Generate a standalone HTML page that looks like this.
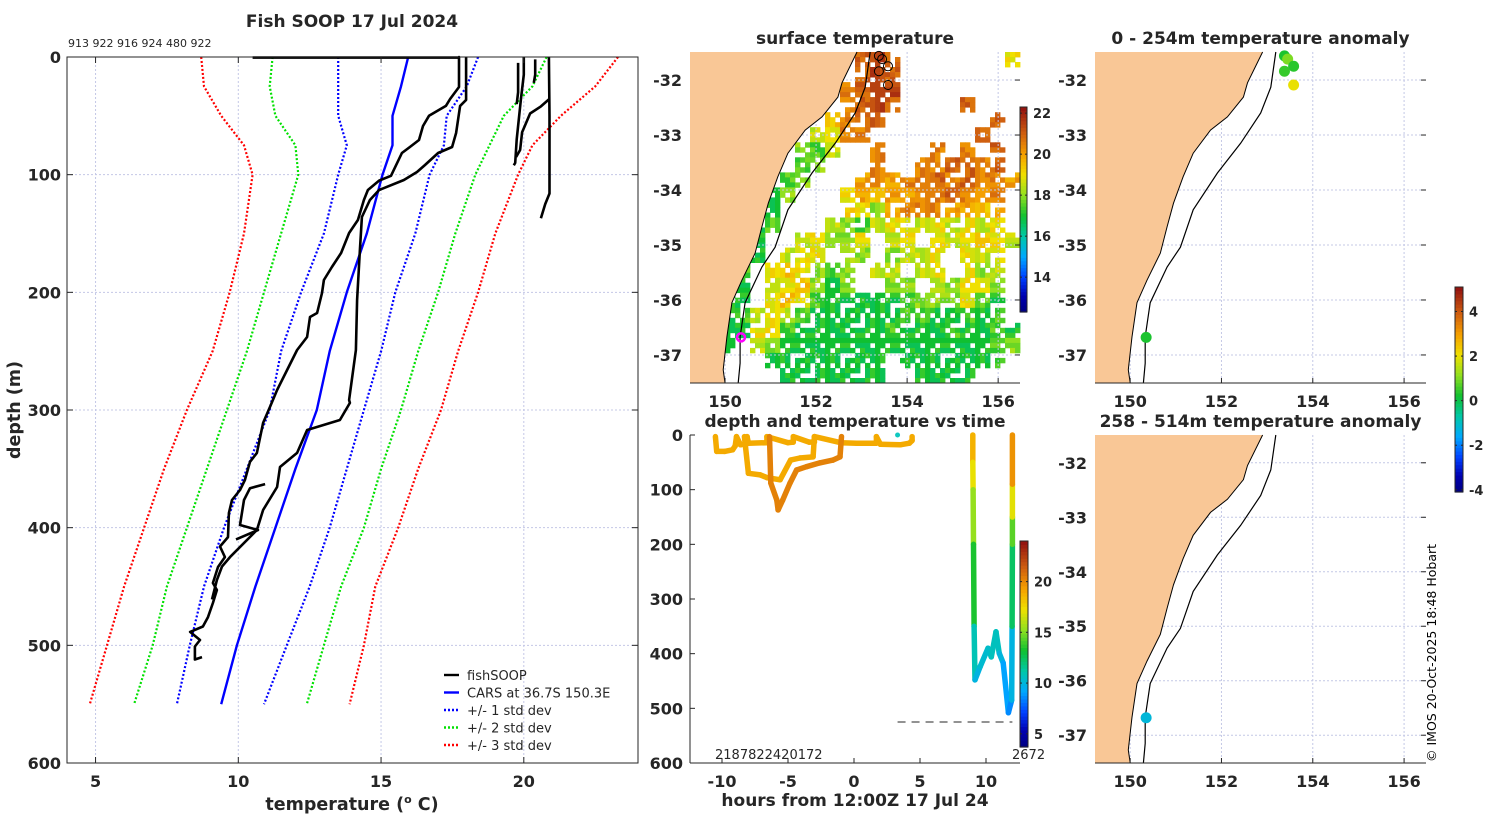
<!DOCTYPE html>
<html><head><meta charset="utf-8"><style>
html,body{margin:0;padding:0;background:#fff;}
svg{display:block;font-family:"DejaVu Sans","Liberation Sans",sans-serif;}
</style></head><body>
<svg id="fig" width="1500" height="820" viewBox="0 0 1500 820" xmlns="http://www.w3.org/2000/svg">
<rect width="1500" height="820" fill="#fff"/>
<g id="prof"></g>
<g id="sst"></g>
<g id="anom1"></g>
<g id="anom2"></g>
<g id="tvt"></g>
<text x="1436" y="762" font-size="12.5" transform="rotate(-90 1436 762)">© IMOS 20-Oct-2025 18:48 Hobart</text>
</svg>
<script>
// ---------- profile data ----------
const depthLevels=[0,25,50,75,100,150,200,250,300,350,400,450,500,550];
const carsMean=[15.95,15.7,15.4,15.4,15.05,14.5,13.8,13.2,12.75,12.0,11.3,10.6,9.95,9.4];
const plus1=[18.4,18.0,17.3,17.2,16.7,16.2,15.5,15.0,14.4,13.8,13.2,12.5,11.7,10.9];
const minus1=[13.5,13.5,13.5,13.8,13.5,13.0,12.2,11.5,11.1,10.3,9.5,8.8,8.3,7.85];
const plus2=[20.8,20.3,19.3,18.8,18.3,17.6,17.0,16.3,15.7,15.0,14.4,13.6,13.0,12.4];
const minus2=[11.2,11.1,11.3,12.0,12.1,11.5,10.9,10.3,9.6,8.9,8.2,7.5,7.0,6.35];
const plus3=[23.3,22.5,21.3,20.3,19.8,19.0,18.4,17.7,17.1,16.3,15.6,14.8,14.4,13.9];
const minus3=[8.7,8.8,9.4,10.2,10.5,10.2,9.7,9.1,8.2,7.4,6.7,6.0,5.4,4.8];
const p1T=[10.5,17.73,17.73,17.73,17.42,17.27,16.68,16.47,16.33,16.01,15.73,15.35,14.93,14.54,14.40,14.19,13.88,13.60,13.28,13.0,12.93,12.76,12.51,12.41,12.06,11.71,11.36,11.11,10.87,10.65,10.41,10.23,10.06,9.78,9.67,9.64,9.36,9.53,9.29,9.11,9.25,9.11,8.94,8.76,8.31,8.66,8.48,8.48,8.73];
const p1D=[0.5,0.5,0,25.5,35.7,41.6,50,58.6,70.5,76.5,81.6,101,105,113,121.5,138.5,149.6,166.6,178.5,189.5,200.6,217.6,221,238,249,266,283,297.4,311,336.5,344,359.5,368,376.5,387.5,408,416,425,433.4,447,453,464,476,484,488.6,495.5,501,512,510];
const p2T=[17.98,17.98,17.77,17.63,17.49,17.0,16.54,16.26,15.80,14.93,14.61,14.33,14.26,14.16,14.12,13.88,13.91,13.56,12.41,12.06,11.46,11.36,10.87,10.65,9.71,9.43,9.25,9.08];
const p2D=[0,36.5,41.6,64.6,76.5,81.6,91.8,97.7,104.5,113,121.5,136,164,206.5,249,291.5,294,308.5,317,336.5,348.4,365.4,385,402,425,433,444.5,461];
const p3T=[10.94,10.41,10.20,10.06,10.69,9.92];
const p3D=[363,366.5,376.5,397.7,402,410];
const p4T=[20.0,20.0,19.9,19.75,19.7,19.65];
const p4D=[0,15,36,70,90,92];
const p5T=[19.8,19.8,19.75];
const p5D=[5,30,40];
const p6T=[20.4,20.4,20.35];
const p6D=[2,15,22];
const p7T=[20.88,20.9,20.9,20.9,20.75,20.6];
const p7D=[0,50,100,116,125,137];
const p8T=[20.88,20.6,20.22,19.94,19.87,19.73];
const p8D=[36,42,48,64,79,85];
const tempTicks=[5,10,15,20];
const depthTicks=[0,100,200,300,400,500,600];

// ---------- maps ----------
const coastLon=[152.90,152.57,152.48,152.13,151.76,151.38,151.16,150.95,150.81,150.66,150.37,150.15,150.04,149.96,150.0];
const coastLat=[-31.49,-32.05,-32.31,-32.67,-32.91,-33.33,-33.76,-34.24,-34.67,-35.15,-35.64,-36.05,-36.67,-37.27,-37.51];
const isoLon=[153.19,153.08,152.86,152.42,151.91,151.38,151.10,150.81,150.44,150.33,150.33,150.29];
const isoLat=[-31.49,-32.13,-32.6,-33.15,-33.69,-34.36,-35.04,-35.4,-36.05,-36.67,-37.15,-37.51];
const lonTicks=[150,152,154,156];
const latTicks=[-32,-33,-34,-35,-36,-37];
const stnLon=[153.38,153.45,153.58,153.38,153.58,150.35];
const stnLat=[-31.56,-31.62,-31.75,-31.84,-32.09,-36.68];
const anomShallow=[0.3,1.0,0.4,0.5,2.0,0.3];
const anomDeepLon=[150.35];
const anomDeepLat=[-36.68];
const anomDeep=[-1.2];
const sstGrid=[
[0,0,0,0,0,0,0,0,0,0,0,21,21.5,21,0,0,0,0,0,0,0,19],
[0,0,0,0,0,0,0,0,0,0,0,21,21.5,21,0,0,0,0,0,0,0,0],
[0,0,0,0,0,0,0,0,0,0,20.5,21,21.5,21.5,0,0,0,0,0,0,0,0],
[0,0,0,0,0,0,0,0,0,0,20.5,21,21.5,21,0,0,0,0,21,0,0,0],
[0,0,0,0,0,0,0,0,0,19.5,20.5,21,21,0,0,0,0,0,0,0,21,0],
[0,0,0,0,0,0,0,0,18.5,19,20.5,20.5,0,0,0,0,0,0,0,21,0,0],
[0,0,0,0,0,0,0,18,17.5,18.5,0,0,20.5,0,0,0,20.5,0,20.5,0,21,0],
[0,0,0,0,0,0,0,17.5,18,0,0,0,20.5,0,0,20.5,20.5,21,21,20.5,21,0],
[0,0,0,0,0,0,17.5,18,0,0,0,20,20.5,20,20.5,20.5,21,20.5,21,20.5,20.5,20],
[0,0,0,0,0,17,18,0,0,0,19,20,19.5,20,20,20.5,20.5,21,20.5,20,20.5,0],
[0,0,0,0,0,17,0,0,0,0,19.5,19,18,20,20.5,20.5,20.5,20,20,19.5,20,0],
[0,0,0,0,17,17.5,0,0,0,18.5,18,17.5,18.5,19,19,18.5,19,18.5,19,18.5,19,0],
[0,0,0,0,17,0,0,18.5,19,18,18,19,0,18.5,19,0,19,18.5,19,19.5,19,18.5],
[0,0,0,17.5,17,0,18.5,19,19,0,18.5,18,0,18,18.5,18.5,19,0,19,18.5,19,0],
[0,0,0,17.5,0,19,19.5,19,18,17.5,18,0,18.5,18.5,0,18.5,19,0,19,18,18.5,0],
[0,0,0,17,0,18.5,19,19.5,18,17,18,0,0,18,18,0,18.5,18,19,19,18,0],
[0,0,17,17,0,19,19.5,19,17.5,17,17,17,17,17,17.5,18,18,18,19,17.5,17,0],
[0,0,17,17.5,18.5,19,18.5,17.5,17,17,17,17,17,17,17.5,17.5,17,17,17.5,17,17.5,0],
[0,0,17,17,19,19,17.5,17,17,17,17,17,17,17.5,17,17,17,17.5,17,17,17.5,17],
[0,0,17,0,18.5,18,17,17,17,17,17,17,17,17,17,17,17,17,17,17,17.5,18],
[0,0,0,0,0,17,17,17,17,17,17,17,17,0,17,17,17,17,17,17,17.5,0],
[0,0,0,0,0,0,17,17,17,17,17,17,17,0,0,17,17,17,17,0,0,0]];

// ---------- depth vs time ----------
const trA_h=[-10.5,-10.4,-9.8,-9.2,-9.0,-8.9,-8.6,-8.1,-8.1,-8.0,-6.6,-6.6,-5,-4.6,-4.6,-3.4,-3.0,-3.0,-1,0.2,1.7,1.7,2,3.5,4.2,4.4,4.4];
const trA_d=[3,30,30,27,20,3,18,16,3,15,14,3,14,13,3,13,13,3,14,15,15,3,17,18,15,10,3];
const trB_h=[-8.3,-8.0,-7.1,-6.6,-5.6,-4.8,-4.1,-3.1,-3.0];
const trB_d=[3,70,73,78,82,46,42,40,3];
const trC_h=[-6.4,-6.3,-5.85,-5.75,-5.4,-4.85,-4.35,-3.6,-2.6,-1.6,-1.06,-0.95];
const trC_d=[3,88,119,137,119,88,64,58,51,46,40,3];
const trD_h=[9.0,9.0,9.02,9.05,9.1,9.17,9.55,10.15,10.4,10.76,11.0,11.3,11.7,11.95,11.98,12.0,12.0,12.0,12.0];
const trD_d=[0,50,100,200,350,448,424,390,406,360,399,417,508,485,350,200,150,90,0];
const trD_T=[19.2,18.3,16.0,14.8,12.0,9.8,10.0,10.6,10.3,11.2,10.2,9.8,8.4,8.8,11.0,13.8,15,19,20.5];
const hourTicks=[-10,-5,0,5,10];
const tvtDepthTicks=[0,100,200,300,400,500,600];

// ---------- helpers ----------
const NS='http://www.w3.org/2000/svg';
function mk(parent,tag,attrs,name,inter){
  const e=document.createElementNS(NS,tag);
  for(const k in attrs)e.setAttribute(k,attrs[k]);
  
  
  parent.appendChild(e);return e;
}
function txt(parent,x,y,s,size,anchor,bold,name){
  const t=mk(parent,'text',{x:x,y:y,'font-size':size,'text-anchor':anchor||'start'},name,false);
  if(bold)t.setAttribute('font-weight','bold');
  t.setAttribute('fill','#262626');
  t.textContent=s;return t;
}
const cstops=[[0,[0,0,128]],[0.08,[0,0,176]],[0.17,[0,64,255]],[0.27,[0,168,255]],[0.37,[0,200,168]],[0.47,[16,192,48]],[0.57,[144,224,32]],[0.67,[240,224,0]],[0.77,[245,160,0]],[0.87,[208,96,16]],[1,[144,16,16]]];
function cmap(v){
  v=Math.max(0,Math.min(1,v));
  for(let i=1;i<cstops.length;i++){
    if(v<=cstops[i][0]){
      const a=cstops[i-1],b=cstops[i],f=(v-a[0])/(b[0]-a[0]);
      const c=a[1].map((x,j)=>Math.round(x+(b[1][j]-x)*f));
      return 'rgb('+c.join(',')+')';
    }
  }
  return 'rgb(144,16,16)';
}
function colorbar(parent,x,y,w,h,vmin,vmax,ticks,name){
  const g=mk(parent,'g',{},name,false);
  const n=60;
  for(let i=0;i<n;i++){
    mk(g,'rect',{x:x,y:y+h-(i+1)*h/n,width:w,height:h/n+0.6,fill:cmap((i+0.5)/n)},'colorbar-slice',false);
  }
  mk(g,'rect',{x:x,y:y,width:w,height:h,fill:'none',stroke:'#262626','stroke-width':1},'colorbar-frame',false);
  ticks.forEach(t=>{
    const ty=y+h-(t-vmin)/(vmax-vmin)*h;
    mk(g,'line',{x1:x,x2:x+2,y1:ty,y2:ty,stroke:'#262626'},'colorbar-tick',false);
    mk(g,'line',{x1:x+w-2,x2:x+w,y1:ty,y2:ty,stroke:'#262626'},'colorbar-tick',false);
    txt(g,x+w+6,ty+5,String(t),13,'start',true,'colorbar-tick-label');
  });
}

// ---------- profile panel ----------
(function(){
  const g=document.getElementById('prof');
  const X0=67,X1=638,Y0=57,Y1=763;
  const xT=T=>X0+(T-4)*(X1-X0)/20;
  const yD=d=>Y0+d*(Y1-Y0)/600;
  txt(g,352,27,'Fish SOOP 17 Jul 2024',17,'middle',true,'profile-title');
  txt(g,68,47,'913 922 916 924 480 922',11,'start',false,'profile-ids');
  tempTicks.forEach(t=>mk(g,'line',{x1:xT(t),x2:xT(t),y1:Y0,y2:Y1,stroke:'#c4c8e6','stroke-dasharray':'2,2'},'x-gridline',false));
  depthTicks.slice(1,-1).forEach(d=>mk(g,'line',{x1:X0,x2:X1,y1:yD(d),y2:yD(d),stroke:'#c4c8e6','stroke-dasharray':'2,2'},'y-gridline',false));
  function line(Ts,Ds,col,w,dash,name){
    const pts=Ts.map((t,i)=>xT(t).toFixed(1)+','+yD(Ds[i]).toFixed(1)).join(' ');
    const a={points:pts,fill:'none',stroke:col,'stroke-width':w,'stroke-linejoin':'round'};
    if(dash)a['stroke-dasharray']=dash;
    mk(g,'polyline',a,name,false);
  }
  line(minus3,depthLevels,'#ff0000',2.2,'2,2','minus-3-std');
  line(plus3,depthLevels,'#ff0000',2.2,'2,2','plus-3-std');
  line(minus2,depthLevels,'#00e000',2.2,'2,2','minus-2-std');
  line(plus2,depthLevels,'#00e000',2.2,'2,2','plus-2-std');
  line(minus1,depthLevels,'#0000ff',2.2,'2,2','minus-1-std');
  line(plus1,depthLevels,'#0000ff',2.2,'2,2','plus-1-std');
  line(carsMean,depthLevels,'#0000ff',2.4,null,'cars-mean');
  [[p1T,p1D],[p2T,p2D],[p3T,p3D],[p4T,p4D],[p5T,p5D],[p6T,p6D],[p7T,p7D],[p8T,p8D]].forEach((p,i)=>line(p[0],p[1],'#000',2.6,null,'fishsoop-profile-'+(i+1)));
  mk(g,'rect',{x:X0,y:Y0,width:X1-X0,height:Y1-Y0,fill:'none',stroke:'#262626','stroke-width':1},'profile-axes-box',false);
  tempTicks.forEach(t=>{
    mk(g,'line',{x1:xT(t),x2:xT(t),y1:Y1,y2:Y1-6,stroke:'#262626'},'x-tick',false);
    mk(g,'line',{x1:xT(t),x2:xT(t),y1:Y0,y2:Y0+6,stroke:'#262626'},'x-tick',false);
    txt(g,xT(t),787,String(t),16,'middle',true,'x-tick-label');
  });
  depthTicks.forEach(d=>{
    mk(g,'line',{x1:X0,x2:X0+6,y1:yD(d),y2:yD(d),stroke:'#262626'},'y-tick',false);
    mk(g,'line',{x1:X1,x2:X1-6,y1:yD(d),y2:yD(d),stroke:'#262626'},'y-tick',false);
    txt(g,61,yD(d)+6,String(d),16,'end',true,'y-tick-label');
  });
  const xl=txt(g,352,810,'temperature (',17.5,'middle',true,'x-axis-title');
  xl.innerHTML='temperature (<tspan font-size="11" dy="-7">o</tspan><tspan dy="7"> C)</tspan>';
  const yl=txt(g,20,410,'depth (m)',17.5,'middle',true,'y-axis-title');
  yl.setAttribute('transform','rotate(-90 20 410)');
  const lg=mk(g,'g',{},'legend',false);
  const items=[['fishSOOP','#000',null],['CARS at 36.7S 150.3E','#0000ff',null],['+/- 1 std dev','#0000ff','2,2'],['+/- 2 std dev','#00e000','2,2'],['+/- 3 std dev','#ff0000','2,2']];
  items.forEach((it,i)=>{
    const y=675+i*17.5;
    const a={x1:444,x2:459,y1:y,y2:y,stroke:it[1],'stroke-width':2.4};
    if(it[2])a['stroke-dasharray']=it[2];
    mk(lg,'line',a,'legend-swatch',false);
    txt(lg,467,y+5,it[0],13,'start',false,'legend-entry');
  });
})();

// ---------- maps ----------
const LON0=149.23,LON1=156.48,LAT0=-31.49,LAT1=-37.51;
function drawMap(gid,x0,y0,w,h,title,opts){
  const g=document.getElementById(gid);
  const px=lon=>x0+(lon-LON0)/(LON1-LON0)*w;
  const py=lat=>y0+(lat-LAT0)/(LAT1-LAT0)*h;
  txt(g,x0+w/2,y0-8,title,17,'middle',true,'map-title');
  if(opts.grid){
    const cw=w/22,ch=h/22,s=3;
    opts.grid.forEach((row,r)=>row.forEach((v,c)=>{
      if(v>0){
        for(let a=0;a<s;a++)for(let b=0;b<s;b++){
          const k=((r*s+a)*131+(c*s+b)*71+((r*s+a)*(c*s+b))*7)%10;
          if(k<3)continue;
          const dv=((k%3)-1)*0.3;
          mk(g,'rect',{x:(x0+(c*s+b)*cw/s).toFixed(1),y:(y0+(r*s+a)*ch/s).toFixed(1),width:(cw/s+0.4).toFixed(1),height:(ch/s+0.4).toFixed(1),fill:cmap((v+dv-12.3)/10)},'sst-cell',false);
        }
      }
    }));
  }
  lonTicks.forEach(l=>mk(g,'line',{x1:px(l),x2:px(l),y1:y0,y2:y0+h,stroke:'#c4c8e6','stroke-dasharray':'2,2'},'lon-gridline',false));
  latTicks.forEach(l=>mk(g,'line',{x1:x0,x2:x0+w,y1:py(l),y2:py(l),stroke:'#c4c8e6','stroke-dasharray':'2,2'},'lat-gridline',false));
  let land=coastLon.map((l,i)=>px(l).toFixed(1)+','+py(coastLat[i]).toFixed(1));
  land.push(x0+','+(y0+h));land.push(x0+','+y0);
  mk(g,'polygon',{points:land.join(' '),fill:'#f9c796',stroke:'none'},'land',false);
  mk(g,'polyline',{points:coastLon.map((l,i)=>px(l).toFixed(1)+','+py(coastLat[i]).toFixed(1)).join(' '),fill:'none',stroke:'#000','stroke-width':1},'coastline',false);
  mk(g,'polyline',{points:isoLon.map((l,i)=>px(l).toFixed(1)+','+py(isoLat[i]).toFixed(1)).join(' '),fill:'none',stroke:'#000','stroke-width':1.2},'shelf-isobath',false);
  if(opts.circles){
    stnLon.forEach((l,i)=>{
      if(i<5)mk(g,'circle',{cx:px(l),cy:py(stnLat[i]),r:4.5,fill:'none',stroke:'#000','stroke-width':1},'station-marker',true);
      else mk(g,'circle',{cx:px(l),cy:py(stnLat[i]),r:4,fill:'none',stroke:'#ff00ff','stroke-width':2.5},'current-station-marker',true);
    });
  }
  if(opts.anLon){
    opts.anLon.forEach((l,i)=>mk(g,'circle',{cx:px(l),cy:py(opts.anLat[i]),r:5.5,fill:cmap((opts.anVal[i]+4.1)/9.2)},'anomaly-dot',true));
  }
  mk(g,'line',{x1:x0,x2:x0+w,y1:y0+h,y2:y0+h,stroke:'#262626'},'map-bottom-axis',false);
  lonTicks.forEach(l=>{
    mk(g,'line',{x1:px(l),x2:px(l),y1:y0+h,y2:y0+h-5,stroke:'#262626'},'lon-tick',false);
    txt(g,px(l),y0+h+24,String(l),16,'middle',true,'lon-tick-label');
  });
  latTicks.forEach(l=>{
    mk(g,'line',{x1:x0+w,x2:x0+w-5,y1:py(l),y2:py(l),stroke:'#262626'},'lat-tick',false);
    txt(g,x0-8,py(l)+6,String(l),16,'end',true,'lat-tick-label');
  });
}
drawMap('sst',690,52,330,331,'surface temperature',{grid:sstGrid,circles:true});
colorbar(document.getElementById('sst'),1020,107,7,205,12.3,22.3,[14,16,18,20,22],'sst-colorbar');
drawMap('anom1',1095,52,331,331,'0 - 254m temperature anomaly',{anLon:stnLon,anLat:stnLat,anVal:anomShallow});
drawMap('anom2',1095,435,331,328,'258 - 514m temperature anomaly',{anLon:anomDeepLon,anLat:anomDeepLat,anVal:anomDeep});
colorbar(document.getElementById('anom1'),1455,287,8,205,-4.1,5.1,[-4,-2,0,2,4],'anomaly-colorbar');

// ---------- depth vs time ----------
(function(){
  const g=document.getElementById('tvt');
  const X0=690,X1=1020,Y0=435,Y1=763;
  const xH=h=>854+h*13.2;
  const yD=d=>Y0+d*(Y1-Y0)/600;
  const vmin=3.7,vmax=24;
  txt(g,855,427,'depth and temperature vs time',17,'middle',true,'time-panel-title');
  function track(H,D,T,name){
    for(let i=0;i<H.length-1;i++){
      const t=(T[i]+T[i+1])/2;
      mk(g,'line',{x1:xH(H[i]).toFixed(1),y1:yD(D[i]).toFixed(1),x2:xH(H[i+1]).toFixed(1),y2:yD(D[i+1]).toFixed(1),stroke:cmap((t-vmin)/(vmax-vmin)),'stroke-width':5.5,'stroke-linecap':'round'},name,false);
    }
  }
  track(trA_h,trA_d,trA_h.map(()=>19.0),'track-surface');
  track(trB_h,trB_d,trB_h.map(()=>19.0),'track-loop');
  track(trC_h,trC_d,trC_h.map(()=>20.3),'track-dive');
  track(trD_h,trD_d,trD_T,'track-deep-profiles');
  mk(g,'circle',{cx:xH(3.3),cy:yD(0),r:2.5,fill:'#10c8c0'},'surface-point',false);
  mk(g,'line',{x1:xH(3.3),x2:xH(12),y1:yD(525),y2:yD(525),stroke:'#262626','stroke-dasharray':'8,6'},'bottom-depth-line',false);
  mk(g,'line',{x1:X0,x2:X0,y1:Y0,y2:Y1,stroke:'#262626'},'y-axis-line',false);
  mk(g,'line',{x1:X0,x2:X1,y1:Y1,y2:Y1,stroke:'#262626'},'x-axis-line',false);
  hourTicks.forEach(h=>{
    mk(g,'line',{x1:xH(h),x2:xH(h),y1:Y1,y2:Y1-5,stroke:'#262626'},'x-tick',false);
    txt(g,xH(h),787,String(h),16,'middle',true,'x-tick-label');
  });
  tvtDepthTicks.forEach(d=>{
    mk(g,'line',{x1:X0,x2:X0+5,y1:yD(d),y2:yD(d),stroke:'#262626'},'y-tick',false);
    txt(g,683,yD(d)+6,String(d),16,'end',true,'y-tick-label');
  });
  txt(g,855,806,'hours from 12:00Z 17 Jul 24',17,'middle',true,'x-axis-title');
  txt(g,715,759,'2187822420172',13,'start',false,'station-id-labels');
  txt(g,1012,759,'2672',13,'start',false,'station-id-label');
  colorbar(g,1020,541,8,206,vmin,vmax,[5,10,15,20],'time-colorbar');
})();
</script>
</body></html>
